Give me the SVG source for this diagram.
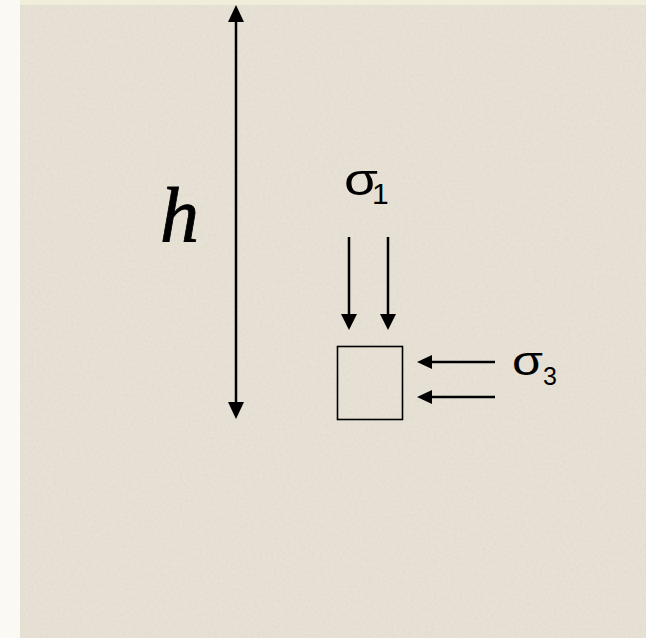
<svg xmlns="http://www.w3.org/2000/svg" width="646" height="638" viewBox="0 0 646 638">
  <defs>
    <style>
      .ln { stroke: #000; stroke-width: 2.5; fill: none; }
      .hd { fill: #000; }
      .sig { font-family: "Liberation Sans", Arial, sans-serif; fill: #000; }
    </style>
    <filter id="tex" x="0" y="0" width="100%" height="100%">
      <feTurbulence type="fractalNoise" baseFrequency="0.35" numOctaves="2" seed="3" result="n"/>
      <feColorMatrix in="n" type="matrix" values="0 0 0 0 0.55  0 0 0 0 0.5  0 0 0 0 0.42  0 0 0 -1.6 0.95" result="c"/>
      <feComposite in="c" in2="SourceGraphic" operator="in"/>
    </filter>
  </defs>
  <rect x="0" y="0" width="646" height="638" fill="#faf9f3"/>
  <rect x="20" y="0" width="626" height="5" fill="#f0eedb"/>
  <g id="background">
    <rect x="20" y="5" width="626" height="633" fill="#e7e1d5"/>
    <rect x="20" y="5" width="626" height="633" fill="#fff" opacity="0.18" filter="url(#tex)"/>
  </g>
  <g id="connectors">
    <line class="ln" x1="236" y1="18" x2="236" y2="406"/>
    <polygon class="hd" points="236,5 228,22 244,22"/>
    <polygon class="hd" points="236,419 228,402 244,402"/>
    <line class="ln" x1="349" y1="237" x2="349" y2="318"/>
    <polygon class="hd" points="349,330 341,314 357,314"/>
    <line class="ln" x1="388" y1="237" x2="388" y2="318"/>
    <polygon class="hd" points="388,330 380,314 396,314"/>
    <line class="ln" x1="428" y1="362" x2="495" y2="362"/>
    <polygon class="hd" points="417,362 432,355 432,369"/>
    <line class="ln" x1="428" y1="397" x2="495" y2="397"/>
    <polygon class="hd" points="417,397 432,390 432,404"/>
  </g>
  <g id="h-label">
    <text x="160" y="242" font-family="'Liberation Serif', 'Times New Roman', serif" font-style="italic" font-size="78" fill="#000" stroke="#000" stroke-width="0.8">h</text>
  </g>
  <g id="sigma1">
    <text class="sig" x="344" y="195" font-size="44" textLength="34" lengthAdjust="spacingAndGlyphs">σ</text>
    <text class="sig" x="372" y="204" font-size="30">1</text>
  </g>
  <g id="element">
    <rect x="337.5" y="346.5" width="65" height="73" fill="none" stroke="#000" stroke-width="1.6"/>
  </g>
  <g id="sigma3">
    <text class="sig" x="512" y="375" font-size="40" textLength="31" lengthAdjust="spacingAndGlyphs">σ</text>
    <text class="sig" x="543" y="385" font-size="25">3</text>
  </g>
</svg>
